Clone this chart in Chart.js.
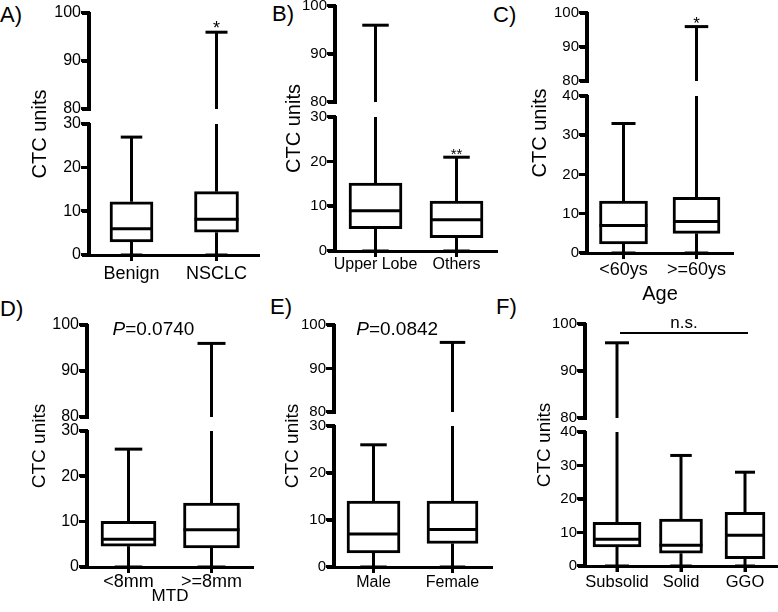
<!DOCTYPE html>
<html>
<head>
<meta charset="utf-8">
<script src="https://cdn.jsdelivr.net/npm/chart.js@4.4.1/dist/chart.umd.min.js"></script>
<style>
  html, body { margin: 0; padding: 0; background: #fff; width: 778px; height: 612px; overflow: hidden; }
  .panel { position: absolute; }
  .tag { position: absolute; font-family: "Liberation Sans", Arial, sans-serif; font-size: 22px; line-height: 22px; color: #000; }
</style>
</head>
<body>
<div class="tag" style="left:0px;top:4px">A)</div>
<div class="tag" style="left:272px;top:3px">B)</div>
<div class="tag" style="left:493px;top:4px">C)</div>
<div class="tag" style="left:0px;top:298px">D)</div>
<div class="tag" style="left:270px;top:296px">E)</div>
<div class="tag" style="left:496px;top:296px">F)</div>

<div class="panel"><canvas id="cA"></canvas></div>
<div class="panel"><canvas id="cB"></canvas></div>
<div class="panel"><canvas id="cC"></canvas></div>
<div class="panel"><canvas id="cD"></canvas></div>
<div class="panel"><canvas id="cE"></canvas></div>
<div class="panel"><canvas id="cF"></canvas></div>

<script>
// ---- data ----
const catA = ['Benign', 'NSCLC'];
const minA = [0, 0];
const q1A = [3, 5.2];
const medA = [6, 8.2];
const q3A = [12.2, 14.5];
const maxA = [27, 96];
const starsA = ['', '*'];

const catB = ['Upper Lobe', 'Others'];
const minB = [0, 0];
const q1B = [5, 3];
const medB = [9, 7];
const q3B = [15.2, 11.2];
const maxB = [96, 21];
const starsB = ['', '**'];

const catC = ['<60ys', '>=60ys'];
const minC = [0, 0];
const q1C = [2.3, 5];
const medC = [7, 8];
const q3C = [13.2, 14.2];
const maxC = [33, 96];
const starsC = ['', '*'];

const catD = ['<8mm', '>=8mm'];
const minD = [0, 0];
const q1D = [4.6, 4.2];
const medD = [6.1, 8.2];
const q3D = [10.1, 14.1];
const maxD = [26, 96];
const pLabelD = 'P=0.0740';

const catE = ['Male', 'Female'];
const minE = [0, 0];
const q1E = [3, 5];
const medE = [7, 8];
const q3E = [14, 14];
const maxE = [26, 96];
const pLabelE = 'P=0.0842';

const catF = ['Subsolid', 'Solid', 'GGO'];
const minF = [0, 0, 0];
const q1F = [5.7, 3.8, 2.2];
const medF = [8, 6.2, 9.2];
const q3F = [13, 14, 16];
const maxF = [96, 33, 28];
const nsLabelF = 'n.s.';

const ticksTop = [80, 90, 100];
const ticksLow30 = [0, 10, 20, 30];
const ticksLow40 = [0, 10, 20, 30, 40];

const yTitle = 'CTC units';

// ---- layout ----
const FONT = '"Liberation Sans", Arial, sans-serif';
const YW = 85, PT = 12, PR = 1;

const panels = [
  { id: 'A', cats: catA, mins: minA, q1: q1A, med: medA, q3: q3A, maxs: maxA, stars: starsA, starFont: 18,
    lowTicks: ticksLow30, axisX: 89, topY: 13, bottomY: 255, right: 259, hTop: 96, hGap: 15, hBot: 131,
    boxW: [43, 44], tickFont: 16, catFont: 18, catPad: 2, titleFont: 20, titleDx: 49, xH: 31 },
  { id: 'B', cats: catB, mins: minB, q1: q1B, med: medB, q3: q3B, maxs: maxB, stars: starsB, starFont: 15,
    lowTicks: ticksLow30, axisX: 335, topY: 6, bottomY: 251, right: 497, hTop: 96, hGap: 15, hBot: 134,
    boxW: [53, 53], tickFont: 15, catFont: 16, catPad: -2, titleFont: 20, titleDx: 41, xH: 26 },
  { id: 'C', cats: catC, mins: minC, q1: q1C, med: medC, q3: q3C, maxs: maxC, stars: starsC, starFont: 17,
    lowTicks: ticksLow40, axisX: 587, topY: 13, bottomY: 253, right: 733, hTop: 68, hGap: 15, hBot: 157,
    boxW: [48, 47], tickFont: 15, catFont: 18, catPad: 0, titleFont: 20, titleDx: 47, xH: 53,
    xTitle: 'Age', xTitleFont: 20 },
  { id: 'D', cats: catD, mins: minD, q1: q1D, med: medD, q3: q3D, maxs: maxD, pLabel: pLabelD,
    lowTicks: ticksLow30, axisX: 87, topY: 325, bottomY: 567, right: 253, hTop: 92, hGap: 14, hBot: 136,
    boxW: [55, 56], tickFont: 16, catFont: 18, catPad: -2, titleFont: 19, titleDx: 47.5, xH: 40,
    xTitle: 'MTD', xTitleFont: 17 },
  { id: 'E', cats: catE, mins: minE, q1: q1E, med: medE, q3: q3E, maxs: maxE, pLabel: pLabelE,
    lowTicks: ticksLow30, axisX: 334, topY: 325, bottomY: 567, right: 492, hTop: 87, hGap: 14, hBot: 141,
    boxW: [53, 51], tickFont: 15, catFont: 16, catPad: 0, titleFont: 19, titleDx: 41.5, xH: 26 },
  { id: 'F', cats: catF, mins: minF, q1: q1F, med: medF, q3: q3F, maxs: maxF, ns: nsLabelF,
    lowTicks: ticksLow40, axisX: 585, topY: 324, bottomY: 566, right: 777, hTop: 94, hGap: 14, hBot: 134,
    boxW: [48, 43, 40], tickFont: 15, catFont: 16.5, catPad: 1, titleFont: 19, titleDx: 40.5, xH: 28 }
];

function boxPlugin(p) {
  const stroke = (ctx, x1, y1, x2, y2, w) => {
    ctx.lineWidth = w || 3;
    ctx.beginPath(); ctx.moveTo(x1, y1); ctx.lineTo(x2, y2); ctx.stroke();
  };
  return {
    id: 'boxPlot' + p.id,
    afterDatasetsDraw(chart) {
      const { ctx, chartArea, scales: { x, yLow, yTop } } = chart;
      ctx.save();
      ctx.strokeStyle = '#000';
      ctx.fillStyle = '#000';

      // y title first, so nothing is drawn over the axis afterwards
      ctx.save();
      ctx.translate(chartArea.left - p.titleDx, (chartArea.top + chartArea.bottom) / 2);
      ctx.rotate(-Math.PI / 2);
      ctx.font = p.titleFont + 'px ' + FONT;
      ctx.textAlign = 'center';
      ctx.textBaseline = 'middle';
      ctx.fillText(yTitle, 0, 0);
      ctx.restore();

      p.cats.forEach((c, i) => {
        const bar = chart.getDatasetMeta(i).data[i];
        const cx = bar.x, half = bar.width / 2, cap = bar.width * 0.25;
        stroke(ctx, cx, chartArea.bottom, cx, chartArea.bottom + 6);
        const yMed = yLow.getPixelForValue(p.med[i]);
        stroke(ctx, cx - half, yMed, cx + half, yMed);
        const yQ1 = yLow.getPixelForValue(p.q1[i]);
        const yMin = yLow.getPixelForValue(p.mins[i]);
        stroke(ctx, cx, yQ1, cx, yMin);
        stroke(ctx, cx - cap, yMin, cx + cap, yMin);
        const yQ3 = yLow.getPixelForValue(p.q3[i]);
        let capY;
        if (p.maxs[i] <= yLow.max) {
          capY = yLow.getPixelForValue(p.maxs[i]);
          stroke(ctx, cx, yQ3, cx, capY);
        } else {
          stroke(ctx, cx, yQ3, cx, yLow.getPixelForValue(yLow.max));
          capY = yTop.getPixelForValue(p.maxs[i]);
          stroke(ctx, cx, yTop.getPixelForValue(yTop.min), cx, capY);
        }
        stroke(ctx, cx - cap, capY, cx + cap, capY);
        if (p.stars && p.stars[i]) {
          ctx.font = p.starFont + 'px ' + FONT;
          ctx.textAlign = 'center';
          ctx.textBaseline = 'alphabetic';
          ctx.fillText(p.stars[i], cx, capY + 2);
        }
      });

      if (p.pLabel) {
        const first = p.pLabel.charAt(0), rest = p.pLabel.slice(1);
        const itFont = 'italic 19px ' + FONT, rgFont = '19px ' + FONT;
        ctx.font = itFont; const w1 = ctx.measureText(first).width;
        ctx.font = rgFont; const w2 = ctx.measureText(rest).width;
        const x0 = x.getPixelForValue(0.3) - (w1 + w2) / 2;
        const yb = yTop.getPixelForValue(97.8);
        ctx.textAlign = 'left';
        ctx.textBaseline = 'alphabetic';
        ctx.font = itFont; ctx.fillText(first, x0, yb);
        ctx.font = rgFont; ctx.fillText(rest, x0 + w1, yb);
      }

      if (p.ns) {
        const x1 = x.getPixelForValue(0), x2 = x.getPixelForValue(p.cats.length - 1);
        const yl = yTop.getPixelForValue(98.1);
        stroke(ctx, x1 + 3, yl, x2 + 3, yl, 2);
        ctx.font = '17px ' + FONT;
        ctx.textAlign = 'center';
        ctx.textBaseline = 'alphabetic';
        ctx.fillText(p.ns, (x1 + x2) / 2 + 3, yl - 5);
      }
      ctx.restore();
    },
    afterDraw(chart) {
      // broken y axis, drawn last: one segment per stacked scale, with its ticks
      const { ctx, chartArea, scales: { yLow, yTop } } = chart;
      const ax = Math.round(chartArea.left);
      ctx.save();
      ctx.setTransform(1, 0, 0, 1, 0, 0);
      ctx.globalAlpha = 1;
      ctx.globalCompositeOperation = 'source-over';
      ctx.fillStyle = '#000';
      [[yTop, ticksTop], [yLow, p.lowTicks]].forEach(([s, vals]) => {
        const yHi = Math.round(s.top), yLo = Math.round(s.bottom);
        ctx.fillRect(ax - 2, yHi - 2, 3, yLo - yHi + 3);
        vals.forEach(v => {
          const ty = Math.round(s.getPixelForValue(v));
          ctx.fillRect(ax - 8, ty - 2, 7, 3);
        });
      });
      ctx.restore();
    }
  };
}

function makeChart(p) {
  const cLeft = p.axisX - YW, cTop = p.topY - PT;
  const w = p.right - cLeft + PR, h = p.bottomY - cTop + p.xH;
  const canvas = document.getElementById('c' + p.id);
  canvas.width = w; canvas.height = h;
  canvas.style.width = w + 'px'; canvas.style.height = h + 'px';
  canvas.parentNode.style.left = cLeft + 'px';
  canvas.parentNode.style.top = cTop + 'px';

  const datasets = p.cats.map((c, i) => ({
    data: p.cats.map((_, j) => j === i ? [p.q1[i], p.q3[i]] : null),
    yAxisID: 'yLow',
    grouped: false,
    barThickness: p.boxW[i],
    backgroundColor: '#fff',
    borderColor: '#000',
    borderWidth: 3,
    borderSkipped: false
  }));

  const fitW = s => { s.width = YW; };
  const yGrid = { drawOnChartArea: false, tickLength: 7, lineWidth: 3, tickWidth: 3, tickColor: '#000', color: '#000' };
  const yTicks = { color: '#000', font: { family: FONT, size: p.tickFont }, padding: 1, autoSkip: false };

  return new Chart(canvas, {
    type: 'bar',
    data: { labels: p.cats, datasets },
    options: {
      responsive: false,
      animation: false,
      devicePixelRatio: 1,
      events: [],
      layout: { padding: { top: PT, right: PR, left: 0, bottom: 0 } },
      plugins: { legend: { display: false }, tooltip: { enabled: false } },
      scales: {
        x: {
          type: 'category',
          offset: true,
          grid: { drawOnChartArea: false, offset: false, tickLength: 6, lineWidth: 3, tickWidth: 3, tickColor: '#000', color: '#000' },
          border: { display: true, color: '#000', width: 3 },
          ticks: { color: '#000', font: { family: FONT, size: p.catFont }, padding: p.catPad, maxRotation: 0, autoSkip: false },
          title: { display: !!p.xTitle, text: p.xTitle || '', color: '#000', font: { family: FONT, size: p.xTitleFont || 20 }, padding: 0 },
          afterFit: s => { s.height = p.xH; }
        },
        yLow: {
          type: 'linear', position: 'left', stack: 'brk', stackWeight: p.hBot, weight: 1,
          min: p.lowTicks[0], max: p.lowTicks[p.lowTicks.length - 1],
          afterBuildTicks: s => { s.ticks = p.lowTicks.map(v => ({ value: v })); },
          grid: yGrid, border: { display: true, color: '#000', width: 3 }, ticks: yTicks, afterFit: fitW
        },
        yGap: {
          type: 'linear', position: 'left', stack: 'brk', stackWeight: p.hGap, weight: 2,
          grid: { display: false }, border: { display: false }, ticks: { display: false }, afterFit: fitW
        },
        yTop: {
          type: 'linear', position: 'left', stack: 'brk', stackWeight: p.hTop, weight: 3,
          min: ticksTop[0], max: ticksTop[ticksTop.length - 1],
          afterBuildTicks: s => { s.ticks = ticksTop.map(v => ({ value: v })); },
          grid: yGrid, border: { display: true, color: '#000', width: 3 }, ticks: yTicks, afterFit: fitW
        }
      }
    },
    plugins: [boxPlugin(p)]
  });
}

panels.forEach(makeChart);
</script>
</body>
</html>
